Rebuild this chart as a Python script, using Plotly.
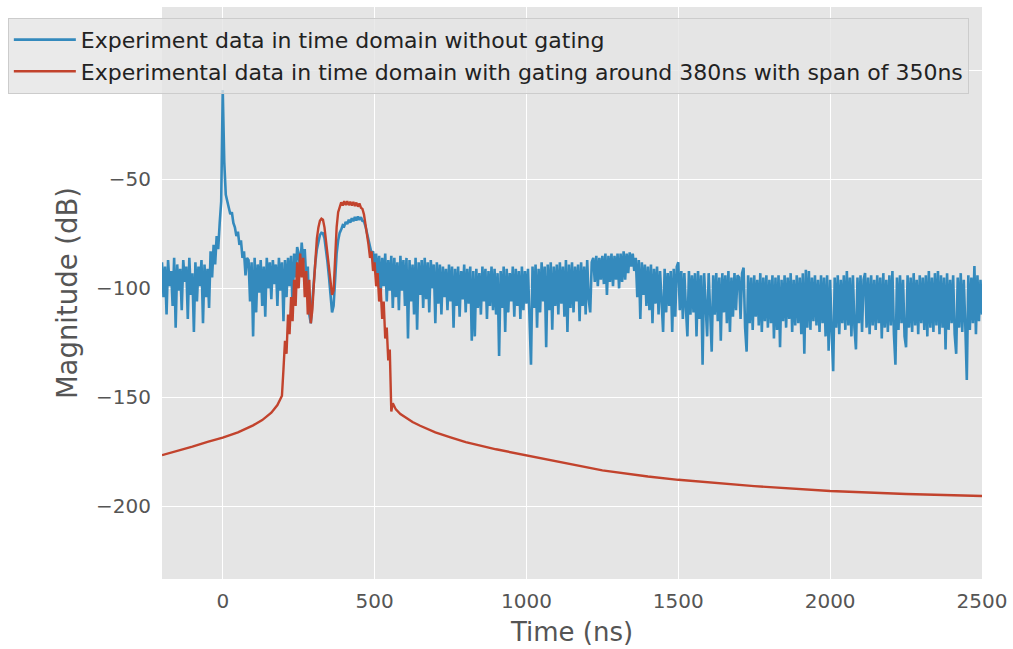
import numpy as np
import plotly.graph_objects as go

STEP = 5  # ns sampling step of the blue trace segments

# ---- Blue: experiment data without gating (dB), segments with their start time (ns)
blue_a_t0 = -200
blue_a = [-88, -104, -90, -112, -87, -99, -92, -108, -86, -118, -89, -101, -91, -110, -87, -97,
          -90, -114, -86, -103, -93, -120, -88, -106, -90, -99, -87, -116, -89, -104, -91, -109]
blue_b_t0 = -40
blue_b = [-83, -95, -80, -89, -76, -82, -70, -60, -9, -42, -57, -61, -63, -66, -65, -70,
          -72, -76, -74, -80, -78, -86, -83, -94, -86]
blue_c_t0 = 85
blue_c = [-87, -106, -88, -122, -86, -111, -89, -102, -87, -108, -90, -113, -86, -100, -88, -105,
          -87, -98, -89, -108, -86, -101, -88, -115, -87, -104, -86, -99, -85, -110, -84, -95, -81]
blue_d_t0 = 250
blue_d = [-84, -92, -79, -88, -82, -96, -90, -112, -116, -106,
          -96, -88, -82, -78, -75.5, -74.5, -74.7, -77, -82, -88,
          -95, -103, -111, -108, -95, -84, -78, -74.5, -73, -71,
          -71.5, -69.5, -70.5, -68.5, -69.8, -67.8, -69.2, -67.2, -68.8, -67,
          -68.6, -67.3, -69, -69.2, -71.5, -74.5, -78, -81, -84, -83,
          -90, -84, -97, -85, -103, -86, -99, -84, -106, -87,
          -101, -85, -109]
blue_e_t0 = 565
blue_e = [-86, -104, -88, -110, -85, -101, -87, -108, -86, -123,
          -87, -106, -89, -112, -86, -119, -88, -103, -87, -109,
          -86, -105, -88, -111, -87, -100, -89, -116, -88, -107,
          -89, -112, -90, -104, -91, -110, -89, -106, -90, -118,
          -91, -108, -90, -113, -92, -105, -89, -111, -91, -107,
          -90, -124, -92, -122, -91, -109, -93, -112, -90, -106,
          -91, -114, -92, -108, -90, -110, -91, -112, -93, -131,
          -92, -109, -90, -120, -91, -111, -93, -106, -90, -113,
          -91, -108, -92, -114, -90, -110, -92, -107, -91, -112,
          -135, -90, -109, -89, -118, -91, -111, -88, -106, -90,
          -127, -89, -110, -88, -119, -90, -108, -89, -112, -88,
          -107, -90, -113, -87, -120, -89, -109, -88, -111, -90,
          -106, -89, -115, -88, -108, -90, -112, -87, -105, -111,
          -88]
blue_f_t0 = 1220
blue_f = [-86, -97, -85, -99, -86, -96, -85, -98, -84, -103, -85, -97, -84, -99, -85, -96,
          -84, -100, -84, -97, -83, -96, -84, -93, -83.5, -90]
blue_g_t0 = 1350
blue_g = [-84, -92, -86, -104, -87, -114, -88, -103, -89, -108,
          -90, -110, -89, -116, -91, -107, -90, -112, -92, -109,
          -120, -91, -111, -93, -108, -92, -120, -91, -113, -90,
          -88, -110, -92, -114, -93, -109, -122, -92, -112, -94,
          -111, -93, -122, -92, -114, -94, -135, -93, -110, -122,
          -93, -113, -129, -94, -112, -93, -115, -95, -124, -93,
          -111, -94, -116, -92, -120, -95, -113, -93, -110, -94]
blue_h_t0 = 1700
blue_h = [-95, -114, -93, -90.5, -118, -129, -94, -116, -95, -119,
          -94, -113, -96, -117, -93, -120, -95, -115, -94, -118,
          -96, -116, -94, -123, -95, -119, -94, -127, -96, -115,
          -94, -118, -95, -114, -93, -120, -96, -117, -94, -116,
          -95, -121, -93, -130, -91.5, -118, -92, -119, -95, -115,
          -94, -117, -96, -120, -94, -116, -95, -122, -94, -128.6,
          -96, -120, -138, -95, -118, -94, -121, -96, -116, -94,
          -119, -92, -117, -95, -122, -94, -118, -128, -95, -116,
          -94, -120, -96, -93, -118, -95, -121, -94, -117, -96,
          -119, -94, -116, -95, -123, -93, -118, -96, -120, -94,
          -117, -92, -121, -135, -95, -119, -94, -116, -96, -122,
          -127, -94, -118, -95, -120, -93, -117, -96, -121, -94,
          -116, -95, -119, -94, -122, -92, -118, -95, -120, -93,
          -117, -92, -121, -94, -118, -95, -128, -93, -119, -96,
          -116, -94, -121, -130, -95, -118, -93, -120, -96, -117,
          -142, -94, -119, -95, -116, -89.7, -121, -94, -115, -96,
          -112]

# ---- Red: gated data (dB)
red_left_t = [-200, -150, -100, -50, 0, 50, 100, 130, 160, 180, 190, 195]
red_left_db = [-176.5, -174.6, -172.6, -170.4, -168.4, -166, -162.8, -160.4, -157, -153.5, -151, -149.2]
red_gate_t0 = 200
red_gate_db = [-137, -124, -130, -112, -121, -104, -115, -96, -108, -88,
               -100, -84, -95, -86, -104, -92, -112, -96, -116, -110,
               -98, -86, -77, -72, -69, -68, -68.5, -72, -78, -84,
               -91, -97, -103, -101, -86, -72, -65, -62.5, -60.5, -62,
               -60, -61.8, -60, -61.8, -60.2, -62, -60.3, -62.2, -60.6, -62.5,
               -61, -63, -63.5, -66, -70, -75, -80, -86, -83, -92,
               -88, -99, -93, -106, -100, -114, -106, -123, -118, -133,
               -128, -156.5]
red_right_t = [560, 570, 585, 600, 625, 650, 700, 750, 800, 900, 1000, 1100, 1250, 1400, 1500,
               1750, 2000, 2250, 2500]
red_right_db = [-152.7, -155.5, -157.6, -159, -161.3, -163, -166, -168.3, -170.5, -173.8, -176.5,
                -179.3, -183.5, -186.3, -187.8, -190.7, -192.9, -194.3, -195.2]

x_ticks = [0, 500, 1000, 1500, 2000, 2500]
y_ticks = [-200, -150, -100, -50, 0]
y_tick_text = ["\u2212200", "\u2212150", "\u2212100", "\u221250", ""]  # the 0 label sits under the legend


def seg_times(t0, vals):
    return list(t0 + STEP * np.arange(len(vals)))


blue_segments = [(blue_a_t0, blue_a), (blue_b_t0, blue_b), (blue_c_t0, blue_c), (blue_d_t0, blue_d),
                 (blue_e_t0, blue_e), (blue_f_t0, blue_f), (blue_g_t0, blue_g), (blue_h_t0, blue_h)]
blue_t, blue_db = [], []
for t0, vals in blue_segments:
    blue_t += seg_times(t0, vals)
    blue_db += list(vals)

red_t = list(red_left_t) + seg_times(red_gate_t0, red_gate_db) + list(red_right_t)
red_db = list(red_left_db) + list(red_gate_db) + list(red_right_db)

FONT = "DejaVu Sans"
fig = go.Figure()
fig.add_trace(go.Scatter(x=blue_t, y=blue_db, mode="lines",
                         line=dict(color="#348ABD", width=2.6),
                         name="Experiment data in time domain without gating"))
fig.add_trace(go.Scatter(x=red_t, y=red_db, mode="lines",
                         line=dict(color="#C2432D", width=2.4),
                         name="Experimental data in time domain with gating around 380ns with span of 350ns"))

fig.update_layout(
    width=1013, height=649,
    margin=dict(l=162, r=31, t=7, b=70),
    paper_bgcolor="white", plot_bgcolor="#E5E5E5",
    font=dict(family=FONT, color="#555555"),
    showlegend=True,
    legend=dict(x=-0.188, y=0.981, xanchor="left", yanchor="top",
                bgcolor="rgba(229,229,229,0.8)", bordercolor="#CCCCCC", borderwidth=1,
                font=dict(family=FONT, size=22, color="#222222"),
                itemwidth=62, tracegroupgap=0),
)
fig.update_xaxes(range=[-200, 2500], tickvals=x_ticks, showgrid=True, gridcolor="white", gridwidth=1.3,
                 zeroline=False, showline=False, ticks="", ticklabelstandoff=8,
                 tickfont=dict(family=FONT, size=20, color="#555555"),
                 title=dict(text="Time (ns)", font=dict(family=FONT, size=26, color="#555555"), standoff=10))
fig.update_yaxes(range=[-233.3, 29.1], tickvals=y_ticks, ticktext=y_tick_text, showgrid=True,
                 gridcolor="white", gridwidth=1.3,
                 zeroline=False, showline=False, ticks="", ticklabelstandoff=10,
                 tickfont=dict(family=FONT, size=20, color="#555555"),
                 title=dict(text="Magnitude (dB)", font=dict(family=FONT, size=27.5, color="#555555"), standoff=10))

fig.write_html("out.html")
